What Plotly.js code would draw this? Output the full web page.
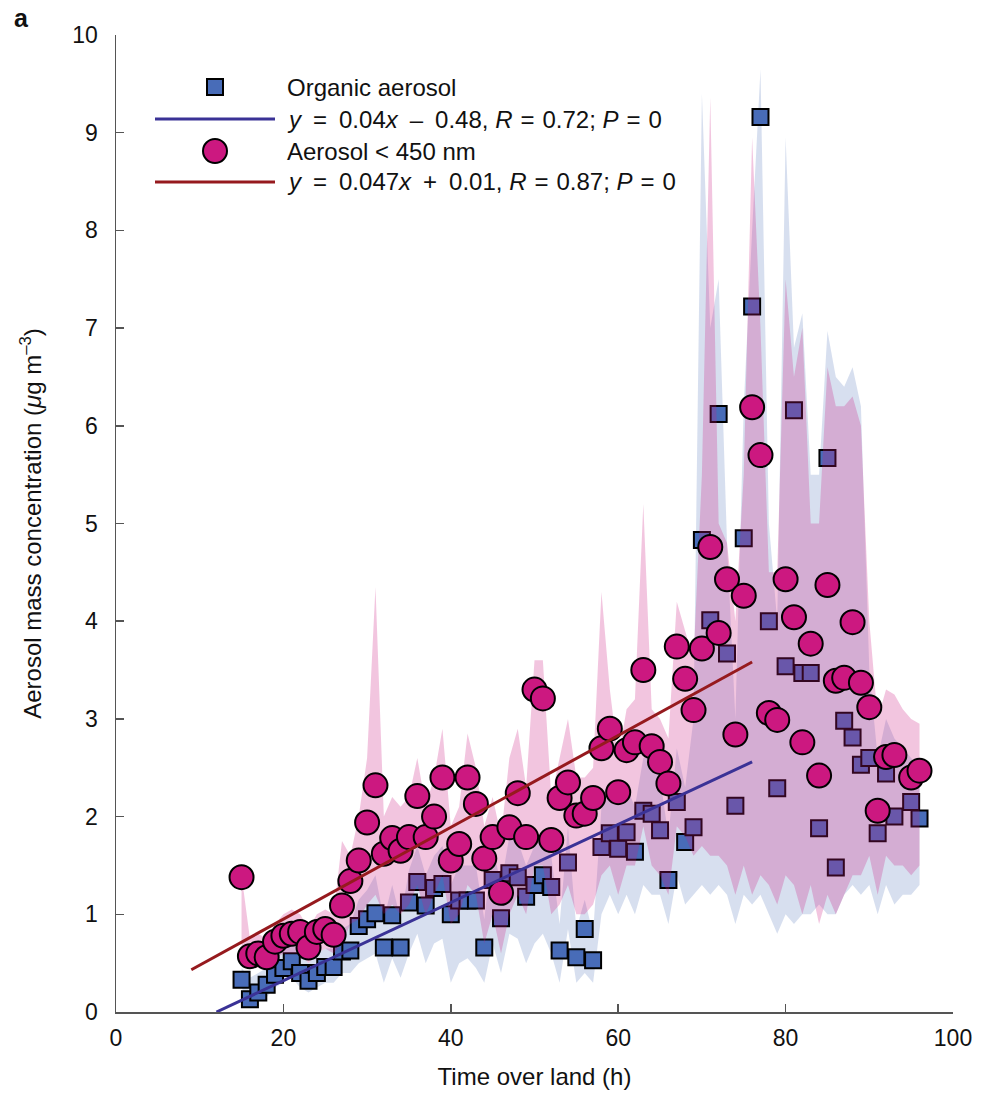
<!DOCTYPE html>
<html>
<head>
<meta charset="utf-8">
<script src="https://cdn.plot.ly/plotly-3.0.1.min.js"></script>
<style>html,body{margin:0;padding:0;background:#fff;}#chart{width:982px;height:1095px;}</style>
</head>
<body>
<div id="chart"></div>
<script>
// ---- data (time over land, h) ----
const hours = [15,16,17,18,19,20,21,22,23,24,25,26,27,28,29,30,31,32,33,34,35,36,37,38,39,40,41,42,43,44,45,46,47,48,49,50,51,52,53,54,55,56,57,58,59,60,61,62,63,64,65,66,67,68,69,70,71,72,73,74,75,76,77,78,79,80,81,82,83,84,85,86,87,88,89,90,91,92,93,94,95,96];

// organic aerosol (squares)
const organic = [0.33,0.13,0.20,0.28,0.38,0.45,0.52,0.40,0.32,0.40,0.46,0.46,0.62,0.63,0.88,0.95,1.01,0.66,0.99,0.66,1.12,1.33,1.09,1.27,1.31,1.00,1.14,1.14,1.14,0.66,1.35,0.96,1.42,1.38,1.18,1.30,1.40,1.28,0.63,1.53,0.56,0.85,0.53,1.69,1.83,1.67,1.84,1.64,2.06,2.03,1.86,1.35,2.15,1.74,1.89,4.83,4.01,6.12,3.67,2.11,4.85,7.22,9.16,4.00,2.29,3.54,6.16,3.47,3.47,1.88,5.67,1.48,2.98,2.81,2.53,2.60,1.83,2.44,2.00,null,2.15,1.98];

// aerosol < 450 nm (circles)
const aerosol450 = [1.38,0.57,0.60,0.56,0.72,0.78,0.80,0.82,0.66,0.82,0.85,0.79,1.09,1.34,1.55,1.94,2.32,1.62,1.78,1.65,1.79,2.21,1.79,2.00,2.40,1.55,1.72,2.40,2.13,1.57,1.79,1.22,1.89,2.24,1.79,3.30,3.21,1.76,2.19,2.35,2.01,2.03,2.19,2.70,2.90,2.25,2.68,2.76,3.50,2.72,2.56,2.34,3.74,3.41,3.09,3.72,4.76,3.88,4.43,2.84,4.26,6.19,5.70,3.06,2.99,4.43,4.04,2.76,3.77,2.42,4.37,3.39,3.42,3.99,3.37,3.12,2.06,2.61,2.63,null,2.40,2.47];

// shaded ranges
const organicHigh = [0.45,0.35,0.40,0.45,0.55,0.65,0.70,0.60,0.50,0.60,0.65,0.65,0.85,0.90,1.15,1.25,1.40,0.95,1.30,0.95,1.45,1.70,1.40,1.60,1.70,1.30,1.50,1.50,1.50,0.95,1.70,1.30,1.80,1.75,1.50,1.70,1.80,1.60,0.90,1.90,0.85,1.15,0.80,2.10,2.30,2.10,2.30,2.10,2.60,2.60,2.40,1.80,2.70,2.30,3.00,9.40,7.00,7.50,4.80,3.00,6.20,8.00,9.65,5.00,4.00,8.95,6.80,7.15,5.50,5.50,6.97,6.50,6.40,6.60,6.20,3.50,2.60,3.00,2.80,2.70,2.60,2.50];
const organicLow = [0.25,0.05,0.10,0.15,0.25,0.30,0.35,0.25,0.20,0.25,0.30,0.30,0.40,0.40,0.50,0.55,0.60,0.30,0.55,0.35,0.60,0.80,0.50,0.70,0.75,0.30,0.50,0.55,0.45,0.30,0.70,0.40,0.80,0.75,0.50,0.70,0.80,0.60,0.30,0.85,0.30,0.40,0.30,1.00,1.20,1.00,1.20,1.00,1.30,1.20,1.20,0.90,1.40,1.10,1.20,1.30,1.20,1.30,1.20,0.90,1.20,1.10,1.20,1.00,0.80,1.00,0.90,1.00,1.00,1.10,1.00,1.00,1.20,1.30,1.20,1.30,1.00,1.30,1.10,1.20,1.20,1.30];
const aerosolHigh = [1.40,0.75,0.80,0.75,0.90,1.00,1.05,1.00,0.85,1.00,1.05,1.00,1.75,1.60,2.00,2.60,4.35,2.00,2.20,2.10,2.20,2.60,2.10,2.40,2.90,1.90,2.10,2.85,2.50,1.90,2.20,1.80,2.60,2.90,2.30,3.60,3.60,2.20,2.60,3.00,2.40,2.40,2.50,4.30,3.30,2.60,3.10,3.20,5.20,3.10,3.00,2.80,4.20,3.90,3.60,5.50,9.36,5.00,4.80,4.00,5.50,8.95,7.00,4.50,4.50,7.50,6.50,7.00,5.00,5.00,6.60,6.20,6.20,6.30,6.00,4.00,3.00,3.30,3.25,3.10,3.00,2.95];
const aerosolLow = [0.55,0.45,0.45,0.45,0.55,0.60,0.60,0.60,0.50,0.60,0.65,0.60,0.70,0.90,0.95,1.10,1.20,1.00,1.10,1.00,1.10,1.30,1.00,1.20,1.40,0.90,1.00,1.30,1.20,0.70,1.00,0.60,1.00,1.20,1.00,1.50,1.50,1.00,1.10,1.30,1.00,1.00,1.10,1.40,1.50,1.20,1.50,1.50,1.90,1.50,1.40,1.20,1.90,1.80,1.60,1.70,1.60,1.60,1.50,1.20,1.50,1.20,1.40,1.30,1.10,1.40,1.30,1.00,1.30,0.90,1.20,1.00,1.20,1.40,1.40,1.60,1.20,1.60,1.50,1.50,1.40,1.50];

// linear fits (end points on the printed equations)
const organicFitX = [12, 76];
const organicFitY = [0.0, 2.56];
const aerosolFitX = [9, 76];
const aerosolFitY = [0.433, 3.582];

const EN = '\u2002', TH = '\u2004';
const legendLabels = [
  'Organic aerosol',
  '<i>y</i>' + EN + '=' + EN + '0.04<i>x</i>' + EN + '–' + EN + '0.48, <i>R</i>' + TH + '=' + TH + '0.72; <i>P</i>' + TH + '=' + TH + '0',
  'Aerosol &lt; 450 nm',
  '<i>y</i>' + EN + '=' + EN + '0.047<i>x</i>' + EN + '+' + EN + '0.01, <i>R</i>' + TH + '=' + TH + '0.87; <i>P</i>' + TH + '=' + TH + '0'
];
const xTicks = [0,20,40,60,80,100];
const yTicks = [0,1,2,3,4,5,6,7,8,9,10];

// ---- styling ----
const FONT = 'Liberation Sans, Arial, Helvetica, sans-serif';
const BLUE = 'rgb(72,108,184)';
const MAGENTA = 'rgb(204,24,128)';
const BLUE_BAND = 'rgba(72,108,184,0.22)';
const PINK_BAND = 'rgba(204,24,128,0.25)';
const FIT_BLUE = 'rgb(58,50,150)';
const FIT_RED = 'rgb(150,26,30)';

function band(hi, lo) {
  return {
    x: hours.concat(hours.slice().reverse()),
    y: hi.concat(lo.slice().reverse())
  };
}
const bBand = band(organicHigh, organicLow);
const pBand = band(aerosolHigh, aerosolLow);

const traces = [
  {x: bBand.x, y: bBand.y, type: 'scatter', mode: 'lines', fill: 'toself',
   fillcolor: BLUE_BAND, line: {width: 0}, hoverinfo: 'skip', showlegend: false},
  {x: hours, y: organic, type: 'scatter', mode: 'markers', cliponaxis: false,
   marker: {symbol: 'square', size: 16, color: BLUE, line: {color: '#000', width: 2}}, showlegend: false},
  {x: pBand.x, y: pBand.y, type: 'scatter', mode: 'lines', fill: 'toself',
   fillcolor: PINK_BAND, line: {width: 0}, hoverinfo: 'skip', showlegend: false},
  {x: hours, y: aerosol450, type: 'scatter', mode: 'markers', cliponaxis: false,
   marker: {symbol: 'circle', size: 24, color: MAGENTA, line: {color: '#000', width: 2}}, showlegend: false},
  {x: organicFitX, y: organicFitY, type: 'scatter', mode: 'lines', cliponaxis: false,
   line: {color: FIT_BLUE, width: 3}, showlegend: false},
  {x: aerosolFitX, y: aerosolFitY, type: 'scatter', mode: 'lines', cliponaxis: false,
   line: {color: FIT_RED, width: 3}, showlegend: false}
];

// plot area in pixels
const M = {l: 116, r: 29, t: 35, b: 83};
const W = 982, H = 1095;
const PW = W - M.l - M.r, PH = H - M.t - M.b;
const px = v => (v - M.l) / PW;
const py = v => (H - M.b - v) / PH;

// manual legend
const legRowsY = [87, 119, 151, 182];
const legMarkX = 215, legLineX0 = 155, legLineX1 = 275, legTextX = 285;
const shapes = [
  {type: 'rect', xref: 'paper', yref: 'paper',
   x0: px(legMarkX - 8), x1: px(legMarkX + 8), y0: py(legRowsY[0] + 8), y1: py(legRowsY[0] - 8),
   fillcolor: BLUE, line: {color: '#000', width: 2}},
  {type: 'line', xref: 'paper', yref: 'paper',
   x0: px(legLineX0), x1: px(legLineX1), y0: py(legRowsY[1]), y1: py(legRowsY[1]),
   line: {color: FIT_BLUE, width: 3}},
  {type: 'circle', xref: 'paper', yref: 'paper',
   x0: px(legMarkX - 12), x1: px(legMarkX + 12), y0: py(legRowsY[2] + 12), y1: py(legRowsY[2] - 12),
   fillcolor: MAGENTA, line: {color: '#000', width: 2}},
  {type: 'line', xref: 'paper', yref: 'paper',
   x0: px(legLineX0), x1: px(legLineX1), y0: py(legRowsY[3]), y1: py(legRowsY[3]),
   line: {color: FIT_RED, width: 3}}
];
const annotations = legendLabels.map((t, i) => ({
  text: t, xref: 'paper', yref: 'paper', x: px(legTextX), y: py(legRowsY[i]),
  xanchor: 'left', yanchor: 'middle', showarrow: false,
  font: {family: FONT, size: 24, color: '#111'}
}));
annotations.push({
  text: '<b>a</b>', xref: 'paper', yref: 'paper', x: px(12), y: py(2),
  xanchor: 'left', yanchor: 'top', showarrow: false,
  font: {family: FONT, size: 25, color: '#111'}
});

const axisCommon = {
  showline: true, linecolor: '#555', linewidth: 1.5,
  ticks: 'inside', ticklen: 8, tickwidth: 1.5, tickcolor: '#555',
  showgrid: false, zeroline: false,
  tickfont: {family: FONT, size: 23, color: '#111'}
};

const layout = {
  width: W, height: H,
  margin: M,
  paper_bgcolor: '#fff', plot_bgcolor: '#fff',
  font: {family: FONT, color: '#111'},
  showlegend: false,
  xaxis: Object.assign({}, axisCommon, {
    range: [0, 100], tickvals: xTicks, ticklabelstandoff: 5,
    title: {text: 'Time over land (h)', font: {family: FONT, size: 24, color: '#111'}, standoff: 18}
  }),
  yaxis: Object.assign({}, axisCommon, {
    range: [0, 10], tickvals: yTicks, ticklabelstandoff: 12,
    title: {text: 'Aerosol mass concentration (<i>μ</i>g m<sup>–3</sup>)', font: {family: FONT, size: 24, color: '#111'}, standoff: 24}
  }),
  shapes: shapes,
  annotations: annotations
};

Plotly.newPlot('chart', traces, layout, {displayModeBar: false, staticPlot: true});
</script>
</body>
</html>
